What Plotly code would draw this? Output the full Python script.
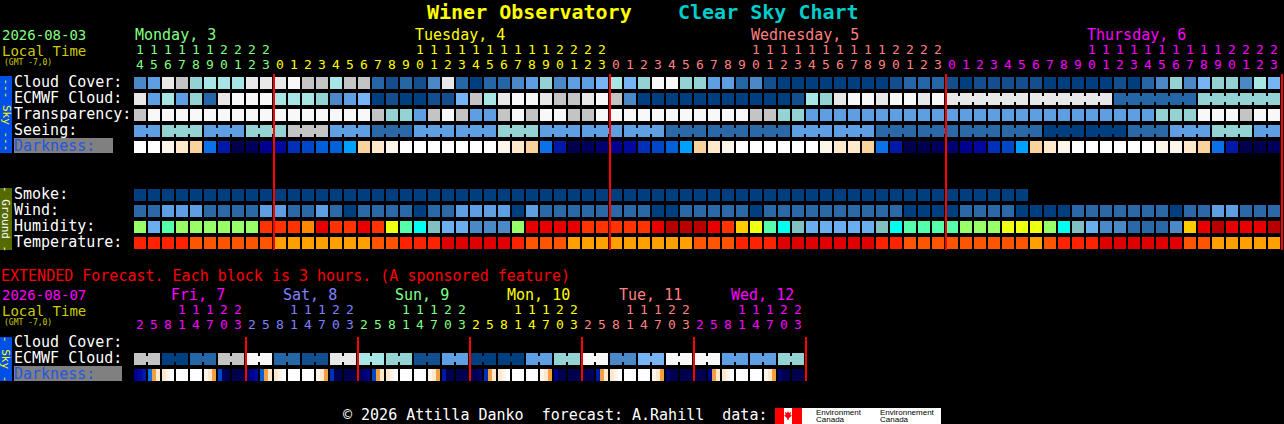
import plotly.graph_objects as go

W, H = 1284, 424
MONO = "DejaVu Sans Mono"
CELL_PX = 14            # pixels per hour (or per 3-hour block in the extended part)
X_RANGE = [-10, W / CELL_PX - 10]

# ---------------------------------------------------------------- data
FIRST_HOUR = 14
DAY_NAMES = ["Monday, 3", "Tuesday, 4", "Wednesday, 5", "Thursday, 6"]
DAY_LENGTHS = [10, 24, 24, 24]
DAY_COLORS = ["#80FF80", "#FFFF00", "#FF8080", "#FF00FF"]

# cloud cover, % (hourly)
CLOUD_COVER = [30, 40, 90, 80, 60, 70, 70, 70, 90, 90,
               90, 100, 80, 80, 70, 80, 80, 20, 10, 20, 10, 30, 90, 20, 0, 20, 20, 30, 40, 60, 30, 40, 40, 50,
               70, 50, 60, 100, 100, 60, 60, 40, 40, 20, 30, 10, 0, 0, 0, 0, 0, 0, 0, 0, 10, 20, 20, 20,
               10, 0, 10, 10, 10, 10, 10, 0, 0, 0, 0, 0, 10, 0, 20, 30, 60, 30, 50, 60, 60, 30, 70, 50]
# ECMWF cloud, %
ECMWF_CLOUD = [90, 40, 70, 40, 60, 20, 90, 100, 100, 100,
               70, 70, 70, 60, 30, 40, 50, 0, 10, 0, 0, 10, 10, 50, 80, 70, 90, 100, 100, 90, 80, 80, 90, 100,
               80, 30, 0, 0, 0, 0, 0, 0, 0, 0, 0, 0, 0, 10, 70, 60, 90, 100, 100, 90, 100, 100, 90, 100,
               90, 90, 90, 90, 90, 90, 90, 90, 90, 90, 90, 90, 20, 20, 20, 20, 20, 20, 60, 60, 60, 60, 60, 60]
# transparency: 0 too cloudy, 1 poor, 2 below avg, 3 average, 4 above avg, 5 transparent
TRANSPARENCY = [1, 0, 0, 0, 0, 0, 0, 0, 0, 0,
                0, 0, 0, 0, 0, 0, 0, 1, 2, 2, 3, 1, 0, 1, 3, 3, 1, 0, 1, 0, 0, 1, 1, 0,
                0, 0, 0, 0, 0, 0, 0, 0, 0, 0, 1, 1, 2, 2, 3, 3, 3, 3, 3, 3, 3, 3, 3, 3,
                3, 3, 3, 3, 3, 3, 3, 3, 3, 3, 3, 3, 3, 3, 3, 2, 2, 2, 0, 0, 0, 1, 0, 0]
# seeing: 1 bad .. 5 excellent
SEEING = [3, 3, 2, 2, 2, 3, 3, 3, 2, 2,
          2, 1, 1, 1, 3, 3, 3, 4, 4, 4, 3, 3, 3, 3, 3, 3, 2, 2, 2, 3, 3, 3, 3, 3,
          3, 3, 3, 3, 4, 4, 4, 4, 4, 4, 4, 4, 4, 3, 3, 3, 3, 3, 3, 4, 4, 4, 4, 4,
          4, 4, 4, 4, 4, 4, 4, 5, 5, 5, 5, 5, 5, 4, 4, 4, 3, 3, 3, 2, 2, 2, 3, 3]
# darkness level: 0 daylight .. 15 darkest
DARKNESS = [0, 0, 1, 2, 3, 6, 10, 15, 14, 12,
            11, 9, 8, 7, 7, 5, 3, 2, 1, 0, 0, 0, 0, 0, 0, 0, 1, 2, 3, 6, 10, 15, 14, 13,
            12, 11, 9, 8, 7, 5, 3, 2, 1, 0, 0, 0, 0, 0, 0, 1, 2, 2, 3, 6, 10, 15, 15, 14,
            13, 12, 11, 9, 8, 5, 3, 2, 1, 0, 0, 0, 0, 0, 0, 1, 1, 2, 3, 6, 10, 15, 15, 14]
# smoke, ug/m^3 (None = no forecast)
SMOKE = [0] * 64 + [None] * 18
# wind, mph
WIND = [8, 8, 14, 14, 14, 8, 8, 8, 8, 14,
        14, 8, 8, 14, 8, 3, 8, 8, 8, 8, 3, 8, 8, 14, 14, 14, 14, 3, 14, 8, 8, 8, 8, 8,
        8, 8, 8, 3, 3, 8, 8, 8, 8, 8, 3, 8, 8, 8, 8, 8, 8, 8, 8, 8, 8, 3, 3, 3,
        3, 8, 8, 8, 8, 3, 3, 3, 3, 8, 8, 8, 8, 8, 8, 8, 3, 8, 8, 14, 14, 8, 8, 8]
# humidity, %
HUMIDITY = [50, 30, 45, 50, 50, 50, 50, 50, 50, 70,
            70, 70, 65, 75, 70, 70, 75, 70, 55, 45, 40, 35, 30, 30, 25, 25, 25, 50, 75, 75, 75, 75, 70, 70,
            70, 70, 70, 75, 80, 80, 80, 75, 70, 60, 55, 45, 40, 35, 30, 30, 30, 30, 30, 35, 40, 45, 45, 45,
            45, 50, 50, 50, 55, 55, 55, 50, 40, 35, 30, 25, 25, 20, 20, 20, 25, 60, 75, 80, 75, 75, 75, 80]
# temperature, F
TEMPERATURE = [82, 82, 82, 82, 77, 77, 77, 77, 77, 77,
               72, 72, 72, 72, 72, 72, 72, 77, 77, 82, 82, 82, 88, 88, 88, 88, 88, 82, 77, 77, 77, 72, 72, 72,
               72, 72, 72, 72, 72, 72, 77, 77, 77, 82, 82, 82, 88, 88, 88, 88, 88, 88, 88, 82, 82, 77, 77, 77,
               77, 77, 77, 77, 77, 77, 72, 77, 82, 82, 82, 88, 88, 88, 88, 88, 88, 77, 77, 72, 72, 72, 72, 72]

# extended forecast (3-hour blocks)
EXT_DAY_NAMES = ["Fri, 7", "Sat, 8", "Sun, 9", "Mon, 10", "Tue, 11", "Wed, 12"]
EXT_DAY_COLORS = ["#FF00FF", "#8080FF", "#80FF80", "#FFFF00", "#FF8080", "#FF00FF"]
EXT_BLOCK_HOURS = [2, 5, 8, 11, 14, 17, 20, 23]
# ECMWF cloud % per block
EXT_ECMWF = [80, 80, 0, 0, 20, 20, 80, 80, 100, 100, 20, 20, 10, 10, 90, 90, 70, 70, 60, 60, 10, 10, 40, 40,
             0, 0, 0, 0, 40, 40, 60, 60, 100, 100, 30, 30, 50, 50, 100, 100, 100, 100, 40, 40, 40, 40, 60, 60]
# darkness level per hour (3 per block)
EXT_DARKNESS = [12, 11, 10, 6, 4, 2, 2, 1, 0, 0, 0, 0, 0, 0, 0, 1, 2, 4, 8, 14, 15, 15, 15, 15,
                13, 12, 11, 7, 4, 2, 2, 1, 0, 0, 0, 0, 0, 0, 0, 1, 2, 4, 9, 15, 15, 15, 15, 15,
                15, 13, 12, 8, 4, 2, 2, 1, 0, 0, 0, 0, 0, 0, 0, 1, 2, 4, 10, 15, 15, 15, 15, 15,
                15, 15, 13, 9, 4, 2, 2, 1, 0, 0, 0, 0, 0, 0, 0, 1, 2, 4, 12, 15, 15, 15, 15, 15,
                15, 15, 14, 10, 4, 2, 2, 1, 0, 0, 0, 0, 0, 0, 0, 1, 2, 4, 13, 15, 15, 15, 15, 15,
                15, 15, 15, 12, 4, 2, 2, 1, 0, 0, 0, 0, 0, 0, 0, 1, 2, 4, 13, 15, 15, 15, 15, 15]

# ---------------------------------------------------------------- palettes
CLOUD_COLORS = {0: "#003F7F", 10: "#134E8E", 20: "#2566A6", 30: "#4A88C8", 40: "#5E9FE3",
                50: "#76B4F5", 60: "#93D3D3", 70: "#A8E6E6", 80: "#C4C4C4", 90: "#E8E8E8", 100: "#F8F8F8"}
TRANSP_COLORS = {5: "#003F7F", 4: "#2A68A8", 3: "#5E9FE3", 2: "#93D3D3", 1: "#C4C4C4", 0: "#F8F8F8"}
SEEING_COLORS = {5: "#003F7F", 4: "#2A68A8", 3: "#5E9FE3", 2: "#93D3D3", 1: "#C4C4C4"}
DARK_COLORS = ["#FFFFFF", "#FFF6EA", "#FFE9CC", "#FAD29C", "#F0A040", "#00A0FF", "#0A72E6", "#0060DA",
               "#0046C8", "#0030B8", "#0018A8", "#0008A0", "#000090", "#000070", "#00005C", "#00004E"]
SMOKE_COLORS = {0: "#003F7F"}
WIND_COLORS = {3: "#003F7F", 8: "#2A68A8", 14: "#5E9FE3"}
HUM_COLORS = {20: "#2A68A8", 25: "#4A88C8", 30: "#6AAEF0", 35: "#80C0C0", 40: "#00FFEE", 45: "#55FFAA",
              50: "#99FF66", 55: "#EEFF11", 60: "#FFCC00", 65: "#FF8800", 70: "#FF3300", 75: "#E80000", 80: "#B80000"}
TEMP_COLORS = {72: "#FFA000", 77: "#FF5500", 82: "#FF2200", 88: "#E00000"}

# ---------------------------------------------------------------- layout constants
SKY_ROWS = {"Cloud Cover:": 83, "ECMWF Cloud:": 99, "Transparency:": 115, "Seeing:": 131, "Darkness:": 147}
GROUND_ROWS = {"Smoke:": 195, "Wind:": 211, "Humidity:": 227, "Temperature:": 243}
EXT_ROWS = {"Cloud Cover:": 343, "ECMWF Cloud:": 359, "Darkness:": 375}
HALF = 6 / CELL_PX
DIGIT_SIZE = 13


def px2x(px):
    return px / CELL_PX + X_RANGE[0]


fig = go.Figure()


def add_cells(xs, y, colors, size=12):
    fig.add_trace(go.Scatter(x=xs, y=[y] * len(xs), mode="markers",
                             marker=dict(symbol="square", size=size, color=colors, line=dict(width=0)),
                             hoverinfo="skip", showlegend=False))


def add_row(values, palette, y, groups=None):
    xs = [i for i, v in enumerate(values) if v is not None]
    add_cells(xs, y, [palette[values[i]] for i in xs])
    if groups is not None:
        bx, bc = [], []
        for i in range(len(values) - 1):
            if values[i] is not None and values[i] == values[i + 1] and groups[i] == groups[i + 1]:
                bx.append(i + 0.5)
                bc.append(palette[values[i]])
        if bx:
            add_cells(bx, y, bc, size=6)


N = len(CLOUD_COVER)
seeing_groups = [(i + 1) // 3 for i in range(N)]
ecmwf_groups = [i if i < 58 else 1000 + (i - 58) // 6 for i in range(N)]

add_row(CLOUD_COVER, CLOUD_COLORS, SKY_ROWS["Cloud Cover:"])
add_row(ECMWF_CLOUD, CLOUD_COLORS, SKY_ROWS["ECMWF Cloud:"], ecmwf_groups)
add_row(TRANSPARENCY, TRANSP_COLORS, SKY_ROWS["Transparency:"])
add_row(SEEING, SEEING_COLORS, SKY_ROWS["Seeing:"], seeing_groups)
add_row(DARKNESS, DARK_COLORS, SKY_ROWS["Darkness:"])
add_row(SMOKE, SMOKE_COLORS, GROUND_ROWS["Smoke:"])
add_row(WIND, WIND_COLORS, GROUND_ROWS["Wind:"])
add_row(HUMIDITY, HUM_COLORS, GROUND_ROWS["Humidity:"])
add_row(TEMPERATURE, TEMP_COLORS, GROUND_ROWS["Temperature:"])

# extended rows
NB = len(EXT_ECMWF)
add_row(EXT_ECMWF, CLOUD_COLORS, EXT_ROWS["ECMWF Cloud:"], [b // 2 for b in range(NB)])
slice_w = 4
ext_x = [h // 3 + (h % 3 - 1) * slice_w / CELL_PX for h in range(len(EXT_DARKNESS))]
fig.add_trace(go.Scatter(x=ext_x, y=[EXT_ROWS["Darkness:"]] * len(ext_x), mode="markers",
                         marker=dict(symbol="line-ns", size=12 / 1.4,
                                     line=dict(width=slice_w, color=[DARK_COLORS[v] for v in EXT_DARKNESS])),
                         hoverinfo="skip", showlegend=False))

# ---------------------------------------------------------------- hour labels
hours, hour_colors, day_start = [], [], []
col = 0
for d, n in enumerate(DAY_LENGTHS):
    h0 = FIRST_HOUR if d == 0 else 0
    day_start.append(col - h0)
    for k in range(n):
        hours.append(h0 + k)
        hour_colors.append(DAY_COLORS[d])
    col += n


def add_text(xs, y, texts, colors, size=DIGIT_SIZE):
    fig.add_trace(go.Scatter(x=xs, y=[y] * len(xs), mode="text", text=texts,
                             textfont=dict(family=MONO, size=size, color=colors),
                             textposition="middle center", hoverinfo="skip", showlegend=False,
                             cliponaxis=False))


add_text(list(range(N)), 65.5, [str(h % 10) for h in hours], hour_colors)
tens_idx = [i for i, h in enumerate(hours) if h >= 10]
add_text(tens_idx, 50.5, [str(hours[i] // 10) for i in tens_idx], [hour_colors[i] for i in tens_idx])

ext_hours = [h for _ in EXT_DAY_NAMES for h in EXT_BLOCK_HOURS]
ext_colors = [c for c in EXT_DAY_COLORS for _ in EXT_BLOCK_HOURS]
add_text(list(range(NB)), 325.5, [str(h % 10) for h in ext_hours], ext_colors)
ext_tens = [i for i, h in enumerate(ext_hours) if h >= 10]
add_text(ext_tens, 310.5, [str(ext_hours[i] // 10) for i in ext_tens], [ext_colors[i] for i in ext_tens])


# ---------------------------------------------------------------- annotations
def label(text, px, py, color="#FFFFFF", size=15, xanchor="left", angle=0, family=MONO):
    fig.add_annotation(text=text, x=px / W, xref="paper", y=py, yref="y", xanchor=xanchor,
                       yanchor="middle", showarrow=False, borderpad=0, textangle=angle,
                       font=dict(family=family, size=size, color=color))


def rect(x0, x1, y0, y1, color):
    fig.add_shape(type="rect", xref="paper", yref="y", x0=x0 / W, x1=x1 / W, y0=y0, y1=y1,
                  fillcolor=color, line=dict(width=0), layer="below")


label("<b>Winer Observatory</b>", 426, 12, "#FFFF00", size=20)
label("<b>Clear Sky Chart</b>", 677, 12, "#00CCCC", size=20)

label("2026-08-03", 1, 34.5, DAY_COLORS[0], size=14)
label("Local Time", 1, 50.5, "#CCCC00", size=14)
label("(GMT -7,0)", 3, 62.5, "#CCCC00", size=8)
for d, name in enumerate(DAY_NAMES):
    c = max(day_start[d] + 10, 0)
    fig.add_annotation(text=name, x=c - HALF, xref="x", y=35, yref="y", xanchor="left", yanchor="middle",
                       showarrow=False, borderpad=0, font=dict(family=MONO, size=15, color=DAY_COLORS[d]))

# left bars
rect(0, 12, 76, 153, "#0050E8")
label("--- Sky ---", 6, 114.5, "#FFFF00", size=11, xanchor="center", angle=90)
rect(0, 12, 188, 250, "#556B00")
label("- Ground -", 6, 219, "#FFFFFF", size=11, xanchor="center", angle=90)
rect(14, 113, 138, 153, "#808080")

for name, y in SKY_ROWS.items():
    label(name, 13, y - 1.5, "#2456E0" if name == "Darkness:" else "#FFFFFF")
for name, y in GROUND_ROWS.items():
    label(name, 13, y - 1.5)

# extended header
label("EXTENDED Forecast. Each block is 3 hours. (A sponsored feature)", 0, 275.5, "#FF0000")
label("2026-08-07", 1, 294.5, EXT_DAY_COLORS[0], size=14)
label("Local Time", 1, 310.5, "#CCCC00", size=14)
label("(GMT -7,0)", 3, 322.5, "#CCCC00", size=8)
for d, name in enumerate(EXT_DAY_NAMES):
    fig.add_annotation(text=name, x=8 * d + px2x(170) - px2x(134) - HALF, xref="x", y=295, yref="y",
                       xanchor="left", yanchor="middle", showarrow=False, borderpad=0,
                       font=dict(family=MONO, size=15, color=EXT_DAY_COLORS[d]))
rect(0, 12, 337, 381, "#0050E8")
label("- Sky -", 6, 359, "#FFFF00", size=11, xanchor="center", angle=90)
rect(14, 122, 366, 381, "#808080")
for name, y in EXT_ROWS.items():
    label(name, 13, y - 1.5, "#2456E0" if name == "Darkness:" else "#FFFFFF")

# midnight lines
bounds = []
acc = 0
for n in DAY_LENGTHS:
    acc += n
    bounds.append(acc)
for b in bounds:
    fig.add_shape(type="line", xref="x", yref="y", x0=b - HALF, x1=b - HALF, y0=74, y1=250,
                  line=dict(color="#FF0000", width=2))
for d in range(1, len(EXT_DAY_NAMES) + 1):
    b = 8 * d
    fig.add_shape(type="line", xref="x", yref="y", x0=b - HALF, x1=b - HALF, y0=337, y1=381,
                  line=dict(color="#FF0000", width=2))

# footer
label("© 2026 Attilla Danko\u00a0\u00a0forecast: A.Rahill\u00a0\u00a0data:", 342, 415, "#FFFFFF")
rect(775, 784, 408, 424, "#FF0000")
rect(784, 792, 408, 424, "#FFFFFF")
rect(792, 802, 408, 424, "#FF0000")
leaf = [(788, 411), (789, 413), (791, 412), (790.5, 415), (792, 415.5), (789, 418), (788.5, 420),
        (787.5, 420), (787, 418), (784, 415.5), (785.5, 415), (785, 412), (787, 413)]
path = "M " + " L ".join(f"{px2x(a):.4f},{b}" for a, b in leaf) + " Z"
fig.add_shape(type="path", xref="x", yref="y", path=path, fillcolor="#FF0000", line=dict(width=0))
rect(802, 941, 408, 424, "#FFFFFF")
label("Environment", 815, 412, "#000000", size=8, family="Liberation Sans")
label("Canada", 815, 419.5, "#000000", size=8, family="Liberation Sans")
label("Environnement", 879, 412, "#000000", size=8, family="Liberation Sans")
label("Canada", 879, 419.5, "#000000", size=8, family="Liberation Sans")

fig.update_layout(width=W, height=H, autosize=False, margin=dict(l=0, r=0, t=0, b=0, pad=0),
                  paper_bgcolor="#000000", plot_bgcolor="#000000", showlegend=False,
                  xaxis=dict(range=X_RANGE, visible=False, fixedrange=True),
                  yaxis=dict(range=[H, 0], visible=False, fixedrange=True))

fig.write_html("out.html", config={"displayModeBar": False, "staticPlot": True},
               post_script="document.body.style.margin='0px';")
